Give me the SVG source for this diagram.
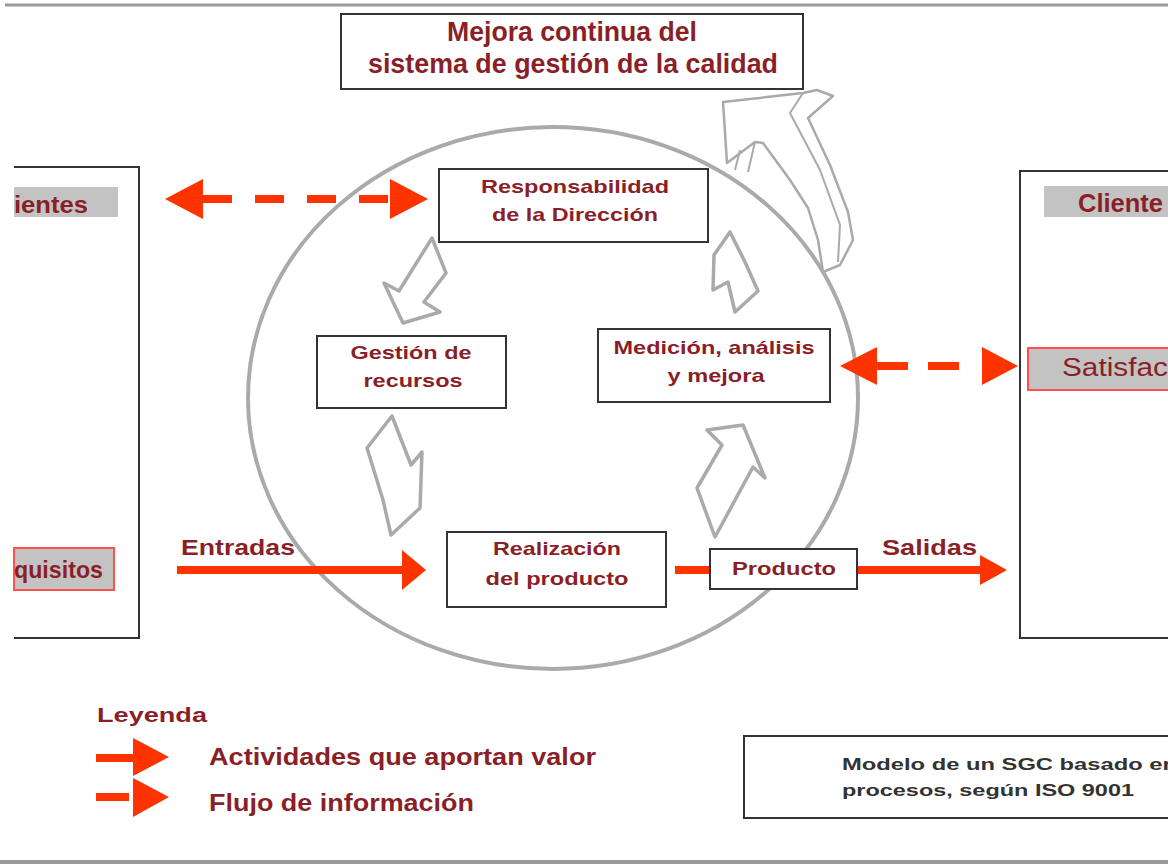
<svg xmlns="http://www.w3.org/2000/svg" width="1168" height="867" viewBox="0 0 1168 867">
<style>
.bx{fill:#fff;stroke:#333;stroke-width:2}
.t{font-family:"Liberation Sans",Arial,sans-serif;font-weight:bold;fill:#8a1f28}
.n{font-size:19px;text-anchor:middle}
.g{fill:#fff;stroke:#aaa;stroke-width:3.5;stroke-linejoin:round}
.ra{stroke:#ff3300;stroke-width:8;fill:none}
.rh{fill:#ff3300}
.lbl{fill:#c3c3c3}
</style>
<rect width="1168" height="867" fill="#fff"/>
<line x1="5" y1="5" x2="1168" y2="5" stroke="#999" stroke-width="3"/>
<line x1="0" y1="862" x2="1168" y2="862" stroke="#999" stroke-width="4"/>

<g id="clientes-izq">
<path d="M14,167 H139 V638 H14" fill="#fff" stroke="#333" stroke-width="2"/>
<rect class="lbl" x="14" y="187" width="104" height="30"/>
<text class="t" x="14" y="213" font-size="24" textLength="74" lengthAdjust="spacingAndGlyphs">ientes</text>
<rect class="lbl" x="14" y="548" width="100" height="42" stroke="#ff5050" stroke-width="2"/>
<text class="t" x="14" y="578" font-size="24" textLength="89" lengthAdjust="spacingAndGlyphs">quisitos</text>
</g>

<g id="clientes-der">
<rect class="bx" x="1020" y="171" width="160" height="467"/>
<rect class="lbl" x="1044" y="186" width="130" height="31"/>
<text class="t" x="1078" y="212" font-size="25" textLength="85" lengthAdjust="spacingAndGlyphs">Cliente</text>
<rect class="lbl" x="1028" y="348" width="150" height="42" stroke="#ff5050" stroke-width="2"/>
<text class="t" x="1062" y="376" font-size="26" style="font-weight:normal" textLength="106" lengthAdjust="spacingAndGlyphs">Satisfac</text>
</g>

<g id="mejora">
<rect class="bx" x="341" y="14" width="462" height="75"/>
<text class="t" x="572" y="41" font-size="27" text-anchor="middle" textLength="250" lengthAdjust="spacingAndGlyphs">Mejora continua del</text>
<text class="t" x="573" y="73" font-size="28" text-anchor="middle" textLength="410" lengthAdjust="spacingAndGlyphs">sistema de gestión de la calidad</text>
</g>

<g id="ciclo">
<ellipse cx="553" cy="398" rx="305" ry="271" fill="none" stroke="#aaa" stroke-width="4"/>
<path class="g" style="stroke-width:2.5" d="M723,102 L803,93 L817,90 L833,96 L808,118 L830,165 L848,212 L853,240 L840,265 L823,272 L818,240 L808,208 L790,180 L763,143 L755,142 L727,163 Z"/>
<path d="M803,93 L790,113 L820,170 L840,225 L838,262" fill="none" stroke="#aaa" stroke-width="2"/>
<path d="M755,142 L748,172 M740,150 L735,170" fill="none" stroke="#aaa" stroke-width="2"/>
<path class="g" d="M432,238 L446,273 L424,302 L440,312 L403,323 L384,283 L399,291 Z"/>
<path class="g" d="M392,416 L367,448 L383,500 L391,535 L420,508 L422,452 L411,465 Z"/>
<path class="g" d="M707,430 L743,425 L765,478 L753,467 L715,537 L697,488 L722,445 Z"/>
<path class="g" d="M730,232 L714,255 L713,290 L728,282 L735,312 L758,291 L745,262 Z"/>
</g>

<g id="responsabilidad">
<rect class="bx" x="439" y="169" width="269" height="73"/>
<text class="t n" x="575" y="193" textLength="188" lengthAdjust="spacingAndGlyphs">Responsabilidad</text>
<text class="t n" x="575" y="221" textLength="166" lengthAdjust="spacingAndGlyphs">de la Dirección</text>
</g>
<g id="gestion">
<rect class="bx" x="317" y="336" width="189" height="72"/>
<text class="t n" x="411" y="359" textLength="121" lengthAdjust="spacingAndGlyphs">Gestión de</text>
<text class="t n" x="413" y="387" textLength="99" lengthAdjust="spacingAndGlyphs">recursos</text>
</g>
<g id="medicion">
<rect class="bx" x="598" y="329" width="232" height="73"/>
<text class="t n" x="714" y="354" textLength="201" lengthAdjust="spacingAndGlyphs">Medición, análisis</text>
<text class="t n" x="716" y="382" textLength="97" lengthAdjust="spacingAndGlyphs">y mejora</text>
</g>
<g id="realizacion">
<rect class="bx" x="447" y="532" width="219" height="75"/>
<text class="t n" x="557" y="555" textLength="128" lengthAdjust="spacingAndGlyphs">Realización</text>
<text class="t n" x="557" y="585" textLength="143" lengthAdjust="spacingAndGlyphs">del producto</text>
</g>

<g id="conectores">
<line class="ra" x1="203" y1="199" x2="390" y2="199" stroke-dasharray="29,23"/>
<polygon class="rh" points="165,199 203,179 203,219"/>
<polygon class="rh" points="428,199 390,179 390,219"/>
<line class="ra" x1="877" y1="366" x2="961" y2="366" stroke-dasharray="31,20"/>
<polygon class="rh" points="840,366 877,347 877,385"/>
<polygon class="rh" points="1018,366 982,347 982,385"/>
<line class="ra" x1="177" y1="570" x2="404" y2="570"/>
<polygon class="rh" points="426,570 402,550 402,590"/>
<line class="ra" x1="675" y1="570" x2="711" y2="570"/>
<line class="ra" x1="857" y1="570" x2="982" y2="570"/>
<polygon class="rh" points="1007,570 980,555 980,585"/>
<text class="t" x="181" y="555" font-size="22" textLength="114" lengthAdjust="spacingAndGlyphs">Entradas</text>
<text class="t" x="882" y="555" font-size="22" textLength="95" lengthAdjust="spacingAndGlyphs">Salidas</text>
</g>

<g id="producto">
<rect class="bx" x="710" y="549" width="147" height="40"/>
<text class="t n" x="784" y="575" textLength="104" lengthAdjust="spacingAndGlyphs">Producto</text>
</g>

<g id="leyenda">
<text class="t" x="97" y="722" font-size="21" textLength="110" lengthAdjust="spacingAndGlyphs">Leyenda</text>
<line class="ra" x1="96" y1="758" x2="135" y2="758"/>
<polygon class="rh" points="169,757 133,738 133,776"/>
<line class="ra" x1="96" y1="797" x2="129" y2="797"/>
<polygon class="rh" points="169,797 133,778 133,817"/>
<text class="t" x="209" y="765" font-size="23" textLength="387" lengthAdjust="spacingAndGlyphs">Actividades que aportan valor</text>
<text class="t" x="209" y="811" font-size="23" textLength="265" lengthAdjust="spacingAndGlyphs">Flujo de información</text>
</g>

<g id="modelo">
<rect class="bx" x="744" y="736" width="440" height="82"/>
<text class="t" x="842" y="770" font-size="17" style="fill:#333" textLength="335" lengthAdjust="spacingAndGlyphs">Modelo de un SGC basado en</text>
<text class="t" x="842" y="796" font-size="17" style="fill:#333" textLength="292" lengthAdjust="spacingAndGlyphs">procesos, según ISO 9001</text>
</g>
</svg>
